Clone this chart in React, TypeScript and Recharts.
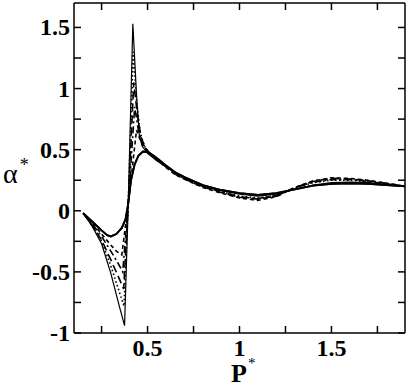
import React from 'react';
import { LineChart, Line, XAxis, YAxis } from 'recharts';

// reduced pressure P* (x) and alpha* (y) for each curve
const p0 = [0.15, 0.2, 0.25, 0.3, 0.35, 0.375, 0.395, 0.42, 0.44, 0.455, 0.47, 0.5, 0.55, 0.6, 0.65, 0.7, 0.8, 0.9, 1.0, 1.1, 1.2, 1.3, 1.4, 1.5, 1.6, 1.7, 1.8, 1.9];
const a0 = [-0.02, -0.13, -0.27, -0.51, -0.8, -0.94, 0.06, 1.53, 0.95, 0.62, 0.53, 0.47, 0.41, 0.36, 0.31, 0.275, 0.21, 0.165, 0.135, 0.12, 0.135, 0.175, 0.21, 0.23, 0.235, 0.23, 0.215, 0.2];

const p1 = [0.15, 0.2, 0.25, 0.3, 0.35, 0.372, 0.395, 0.422, 0.44, 0.46, 0.48, 0.5, 0.55, 0.6, 0.65, 0.7, 0.8, 0.9, 1.0, 1.1, 1.2, 1.3, 1.4, 1.5, 1.6, 1.7, 1.8, 1.9];
const a1 = [-0.02, -0.12, -0.25, -0.45, -0.68, -0.78, 0.06, 1.3, 0.9, 0.64, 0.54, 0.48, 0.42, 0.365, 0.31, 0.27, 0.2, 0.155, 0.12, 0.105, 0.125, 0.185, 0.23, 0.25, 0.25, 0.24, 0.22, 0.2];

const p2 = [0.15, 0.2, 0.25, 0.3, 0.35, 0.37, 0.395, 0.425, 0.445, 0.465, 0.49, 0.52, 0.55, 0.6, 0.65, 0.7, 0.8, 0.9, 1.0, 1.1, 1.2, 1.3, 1.4, 1.5, 1.6, 1.7, 1.8, 1.9];
const a2 = [-0.02, -0.12, -0.24, -0.4, -0.57, -0.64, 0.06, 1.05, 0.78, 0.6, 0.51, 0.46, 0.42, 0.36, 0.3, 0.26, 0.195, 0.15, 0.11, 0.095, 0.12, 0.19, 0.24, 0.265, 0.26, 0.245, 0.225, 0.2];

const p3 = [0.15, 0.2, 0.25, 0.3, 0.34, 0.365, 0.395, 0.43, 0.45, 0.47, 0.5, 0.55, 0.6, 0.65, 0.7, 0.8, 0.9, 1.0, 1.1, 1.2, 1.3, 1.4, 1.5, 1.6, 1.7, 1.8, 1.9];
const a3 = [-0.02, -0.11, -0.21, -0.33, -0.43, -0.5, 0.06, 0.85, 0.66, 0.56, 0.49, 0.425, 0.365, 0.305, 0.265, 0.2, 0.155, 0.115, 0.1, 0.125, 0.185, 0.235, 0.255, 0.255, 0.24, 0.22, 0.2];

const p4 = [0.15, 0.2, 0.25, 0.3, 0.33, 0.36, 0.395, 0.44, 0.46, 0.48, 0.5, 0.55, 0.6, 0.65, 0.7, 0.8, 0.9, 1.0, 1.1, 1.2, 1.3, 1.4, 1.5, 1.6, 1.7, 1.8, 1.9];
const a4 = [-0.02, -0.1, -0.19, -0.28, -0.33, -0.36, 0.06, 0.66, 0.58, 0.52, 0.48, 0.42, 0.355, 0.295, 0.26, 0.19, 0.145, 0.105, 0.085, 0.115, 0.19, 0.245, 0.27, 0.265, 0.25, 0.225, 0.2];

const p5 = [0.15, 0.2, 0.25, 0.28, 0.3, 0.33, 0.36, 0.38, 0.395, 0.41, 0.43, 0.45, 0.475, 0.5, 0.53, 0.56, 0.6, 0.65, 0.7, 0.8, 0.9, 1.0, 1.1, 1.2, 1.3, 1.4, 1.5, 1.6, 1.7, 1.8, 1.9];
const a5 = [-0.02, -0.09, -0.16, -0.2, -0.21, -0.19, -0.14, -0.07, 0.06, 0.25, 0.38, 0.45, 0.485, 0.48, 0.455, 0.42, 0.37, 0.315, 0.275, 0.21, 0.17, 0.145, 0.13, 0.145, 0.175, 0.205, 0.22, 0.225, 0.22, 0.21, 0.2];

const xTicks = [0.25, 0.5, 0.75, 1, 1.25, 1.5, 1.75];
const yTicks = [-1, -0.75, -0.5, -0.25, 0, 0.25, 0.5, 0.75, 1, 1.25, 1.5];
const xLabels = [0.5, 1, 1.5];
const yLabels = [-1, -0.5, 0, 0.5, 1, 1.5];

const X_DOMAIN = [0.1, 1.9];
const Y_DOMAIN = [-1, 1.7];
const TICK = 7;

const toPts = (xs: number[], ys: number[]) => xs.map((x, i) => ({ x, y: ys[i] }));

const series = [
  { data: toPts(p0, a0), width: 1.2, dash: undefined },
  { data: toPts(p1, a1), width: 1.6, dash: '1.5 2.5' },
  { data: toPts(p2, a2), width: 1.6, dash: '8 4' },
  { data: toPts(p3, a3), width: 1.6, dash: '7 3 2 3' },
  { data: toPts(p4, a4), width: 1.6, dash: '4 3' },
  { data: toPts(p5, a5), width: 1.8, dash: undefined },
];

const serif = '"Liberation Serif", serif';
const axisStroke = { stroke: '#000', strokeWidth: 1.5 };

const XTick = (props: any) => {
  const v = props.payload.value;
  if (!xLabels.includes(v)) return <g />;
  return (
    <text x={props.x} y={props.y} dy={16} textAnchor="middle" fontFamily={serif} fontSize={24} fontWeight="bold" style={{ fontWeight: 700 }} fill="#000">
      {String(v)}
    </text>
  );
};

const YTick = (props: any) => {
  const v = props.payload.value;
  if (!yLabels.includes(v)) return <g />;
  return (
    <text x={props.x} y={props.y} dy={8} textAnchor="end" fontFamily={serif} fontSize={24} fontWeight="bold" style={{ fontWeight: 700 }} fill="#000">
      {String(v)}
    </text>
  );
};

const XTitle = () => (
  <text x={231} y={382} fontFamily={serif} fontSize={26} fontWeight="bold" fill="#000">
    P<tspan dx={1} dy={-14} fontSize={15} fontWeight="normal">*</tspan>
  </text>
);

const YTitle = () => (
  <text x={3} y={183} fontFamily={serif} fontSize={28} fill="#000">
    α<tspan dx={2} dy={-12} fontSize={18}>*</tspan>
  </text>
);

export default function App() {
  return (
    <div style={{ position: 'absolute', left: 0, top: 0, width: 409, height: 389, background: '#fff' }}>
      <LineChart width={409} height={389} margin={{ top: 3, right: 4, bottom: 0, left: 0 }}>
        <XAxis
          dataKey="x"
          type="number"
          domain={X_DOMAIN}
          allowDataOverflow
          ticks={xTicks}
          interval={0}
          tickSize={-TICK}
          tickMargin={14}
          height={56}
          axisLine={axisStroke}
          tickLine={axisStroke}
          tick={<XTick />}
          label={<XTitle />}
        />
        <YAxis
          type="number"
          domain={Y_DOMAIN}
          allowDataOverflow
          ticks={yTicks}
          interval={0}
          tickSize={-TICK}
          tickMargin={11}
          width={74}
          axisLine={axisStroke}
          tickLine={axisStroke}
          tick={<YTick />}
          label={<YTitle />}
        />
        {/* mirrored frame axes: top and right edges, ticks pointing inward */}
        <XAxis
          xAxisId="top"
          orientation="top"
          mirror
          dataKey="x"
          type="number"
          domain={X_DOMAIN}
          allowDataOverflow
          ticks={xTicks}
          tickSize={TICK}
          tickFormatter={() => ''}
          axisLine={axisStroke}
          tickLine={axisStroke}
        />
        <YAxis
          yAxisId="right"
          orientation="right"
          mirror
          type="number"
          domain={Y_DOMAIN}
          allowDataOverflow
          ticks={yTicks}
          tickSize={TICK}
          tickFormatter={() => ''}
          axisLine={axisStroke}
          tickLine={axisStroke}
        />
        {series.map((s, i) => (
          <Line
            key={i}
            data={s.data}
            dataKey="y"
            type="linear"
            stroke="#000"
            strokeWidth={s.width}
            strokeDasharray={s.dash}
            dot={false}
            activeDot={false}
            isAnimationActive={false}
          />
        ))}
        <Line
          data={series[5].data}
          dataKey="y"
          xAxisId="top"
          yAxisId="right"
          stroke="#000"
          strokeWidth={s5Width()}
          dot={false}
          activeDot={false}
          isAnimationActive={false}
        />
      </LineChart>
    </div>
  );
}

// the inner solid curve drawn again on the frame axes (same scales, so it overlaps exactly)
function s5Width() {
  return 1.8;
}
